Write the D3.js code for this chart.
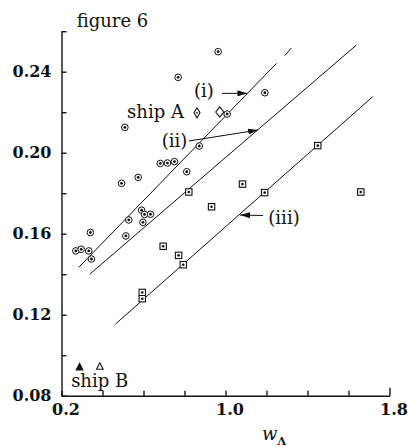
<!DOCTYPE html>
<html>
<head>
<meta charset="utf-8">
<script src="https://cdn.jsdelivr.net/npm/d3@7"></script>
<style>
  body { margin: 0; background: #fff; }
  svg { display: block; }
  text { font-family: "DejaVu Serif", "Liberation Serif", serif; fill: #111; }
  .axis path, .axis line { stroke: #111; stroke-width: 1.4; }
  .axis text { font-size: 16px; font-weight: bold; }
</style>
</head>
<body>
<svg id="chart" width="408" height="447"></svg>
<script>
// circled dots
const circX = [0.270, 0.296, 0.333, 0.346, 0.341, 0.493, 0.574, 0.528, 0.514, 0.591, 0.605, 0.634,
  0.597, 0.682, 0.717, 0.751, 0.811, 0.872, 0.769, 0.964, 0.509, 1.008, 1.192];
const circY = [0.1515, 0.1523, 0.1515, 0.1475, 0.1606, 0.1849, 0.1878, 0.1668, 0.1589, 0.1716, 0.1695, 0.1696,
  0.1656, 0.1947, 0.1949, 0.1956, 0.1906, 0.2033, 0.2372, 0.2499, 0.2125, 0.2191, 0.2296];
// squared dots
const sqX = [0.821, 0.932, 1.083, 1.191, 1.450, 1.660, 0.696, 0.771, 0.794, 0.594, 0.594];
const sqY = [0.1806, 0.1733, 0.1845, 0.1803, 0.2035, 0.1806, 0.1538, 0.1493, 0.1447, 0.1310, 0.1279];
// ship A (diamonds), ship B (triangles)
const shipAX = [0.861, 0.972];
const shipAY = [0.2197, 0.2201];
const shipBX = [0.288, 0.387];
const shipBY = [0.0940, 0.0943];
// fitted lines: [x0, y0, x1, y1]
const lineI = [0.2844, 0.1434, 1.2488, 0.2441];
const lineIdash = [1.289, 0.2479, 1.3205, 0.2516];
const lineII = [0.338, 0.1400, 1.639, 0.2532];
const lineIII = [0.4634, 0.1154, 1.7186, 0.2277];

const xTicks = [0.2, 0.4, 0.6, 0.8, 1.0, 1.2, 1.4, 1.6, 1.8];
const xLabels = [0.2, 1.0, 1.8];
const yTicks = [0.08, 0.10, 0.12, 0.14, 0.16, 0.18, 0.20, 0.22, 0.24, 0.26];
const yLabels = [0.08, 0.12, 0.16, 0.20, 0.24];

const svg = d3.select("#chart");
const x = d3.scaleLinear().domain([0.2, 1.8]).range([61.5, 389.5]);
const y = d3.scaleLinear().domain([0.08, 0.26]).range([395.7, 31.2]);

const isLabel = (arr, v) => arr.some(a => Math.abs(a - v) < 1e-6);

const gx = svg.append("g").attr("class", "axis")
  .attr("transform", `translate(0,${y(0.08)})`)
  .call(d3.axisBottom(x).tickValues(xTicks).tickSizeInner(-5).tickSizeOuter(0)
    .tickFormat(d => isLabel(xLabels, d) ? d.toFixed(1) : ""));
gx.selectAll(".tick text").attr("y", 19).attr("dy", 0).attr("dx", 4);
gx.selectAll(".tick").filter(d => d === 1.8).select("line").attr("y2", -8);

svg.append("g").attr("class", "axis")
  .attr("transform", `translate(${x(0.2)},0)`)
  .call(d3.axisLeft(y).tickValues(yTicks).tickSizeInner(-5).tickSizeOuter(0).tickPadding(10)
    .tickFormat(d => isLabel(yLabels, d) ? d.toFixed(2) : ""));
svg.selectAll(".axis .domain").attr("fill", "none");

// lines
const seg = (l) => svg.append("line")
  .attr("x1", x(l[0])).attr("y1", y(l[1])).attr("x2", x(l[2])).attr("y2", y(l[3]))
  .attr("stroke", "#111").attr("stroke-width", 1);
[lineI, lineIdash, lineII, lineIII].forEach(seg);

// markers
const circles = svg.append("g");
circX.forEach((v, i) => {
  circles.append("circle").attr("cx", x(v)).attr("cy", y(circY[i])).attr("r", 3.3)
    .attr("fill", "#fff").attr("stroke", "#111").attr("stroke-width", 1);
  circles.append("circle").attr("cx", x(v)).attr("cy", y(circY[i])).attr("r", 1.4).attr("fill", "#111");
});
const squares = svg.append("g");
sqX.forEach((v, i) => {
  squares.append("rect").attr("x", x(v) - 3.2).attr("y", y(sqY[i]) - 3.2).attr("width", 6.4).attr("height", 6.4)
    .attr("fill", "#fff").attr("stroke", "#111").attr("stroke-width", 1.1);
  squares.append("circle").attr("cx", x(v)).attr("cy", y(sqY[i])).attr("r", 1.3).attr("fill", "#111");
});
const dsize = [[3, 5], [4, 5.2]];
shipAX.forEach((v, i) => {
  const cx = x(v), cy = y(shipAY[i]), w = dsize[i][0], h = dsize[i][1];
  svg.append("path").attr("d", `M${cx},${cy - h}L${cx + w},${cy}L${cx},${cy + h}L${cx - w},${cy}Z`)
    .attr("fill", "#fff").attr("stroke", "#111").attr("stroke-width", 1.1);
  if (i === 0) svg.append("circle").attr("cx", cx).attr("cy", cy).attr("r", 0.9).attr("fill", "#111");
});
shipBX.forEach((v, i) => {
  const cx = x(v), cy = y(shipBY[i]);
  svg.append("path").attr("d", `M${cx},${cy - 4}L${cx + 3.3},${cy + 2.5}L${cx - 3.3},${cy + 2.5}Z`)
    .attr("fill", i === 0 ? "#111" : "#fff").attr("stroke", "#111").attr("stroke-width", 1.1);
});

// arrows
svg.append("defs").append("marker").attr("id", "ah")
  .attr("viewBox", "0 0 10 6").attr("refX", 10).attr("refY", 3)
  .attr("markerWidth", 10).attr("markerHeight", 6).attr("markerUnits", "userSpaceOnUse")
  .attr("orient", "auto")
  .append("path").attr("d", "M0,0L10,3L0,6Z").attr("fill", "#111");
const arrows = [[0.983, 0.2293, 1.107, 0.2293], [0.822, 0.2058, 1.159, 0.2112], [1.183, 0.1690, 1.071, 0.1692]];
arrows.forEach(a => svg.append("line")
  .attr("x1", x(a[0])).attr("y1", y(a[1])).attr("x2", x(a[2])).attr("y2", y(a[3]))
  .attr("stroke", "#111").attr("stroke-width", 1).attr("marker-end", "url(#ah)"));

// text labels
const labels = [["(i)", 0.846, 0.2275], ["(ii)", 0.689, 0.2028], ["(iii)", 1.209, 0.1648],
  ["ship A", 0.520, 0.2171], ["ship B", 0.247, 0.0844]];
labels.forEach(l => svg.append("text").attr("x", x(l[1])).attr("y", y(l[2]))
  .attr("font-size", 18).text(l[0]));

svg.append("text").attr("x", 76.7).attr("y", 26.5).attr("font-size", 18).text("figure 6");

const xt = svg.append("text").attr("x", 262).attr("y", 440).attr("font-size", 18);
xt.append("tspan").attr("font-style", "italic").text("w");
xt.append("tspan").attr("font-size", 11).attr("font-weight", "bold").attr("dy", 5).text("Λ");
</script>
</body>
</html>
